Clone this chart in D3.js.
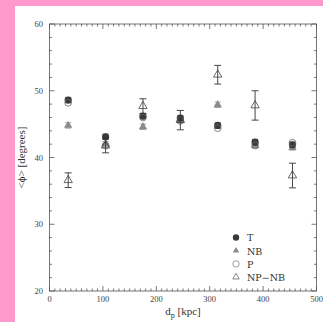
<!DOCTYPE html>
<html><head><meta charset="utf-8">
<script src="https://cdn.jsdelivr.net/npm/d3@7"></script>
<style>
html,body{margin:0;padding:0;background:#ff99cc;}
svg{display:block;}
</style></head>
<body>
<script>
const distances = [35, 105, 175, 245, 315, 385, 455];
const valuesT   = [48.6, 43.1, 46.2, 45.9, 44.8, 42.3, 41.9];
const errT      = [0.4, 0.4, 0.4, 0.4, 0.4, 0.4, 0.4];
const valuesNB  = [44.8, 42.0, 44.6, 45.6, 47.9, 41.8, 41.5];
const errNB     = [0.4, 0.4, 0.4, 0.4, 0.4, 0.4, 0.4];
const valuesP   = [48.2, 41.8, 46.0, 45.5, 44.4, 41.8, 42.2];
const valuesNPNB= [36.6, 41.8, 47.7, 45.6, 52.4, 47.8, 37.3];
const errNPNB   = [1.1, 1.1, 1.1, 1.45, 1.4, 2.2, 1.85];
const xTicks = [0, 100, 200, 300, 400, 500];
const yTicks = [20, 30, 40, 50, 60];
const legendLabels = ["T", "NB", "P", "NP\u2212NB"];

const W = 323, H = 322;
const svg = d3.select("body").append("svg").attr("width", W).attr("height", H);
svg.append("rect").attr("x", 15).attr("y", 6).attr("width", W - 15).attr("height", H - 6).attr("fill", "#fff");

const L = 49.5, R = 316.5, T = 24, B = 291;
const x = d3.scaleLinear().domain([0, 500]).range([L, R]);
const y = d3.scaleLinear().domain([20, 60]).range([B, T]);
const axisCol = "#555";
const font = "Liberation Serif, DejaVu Serif, serif";
const font2 = "DejaVu Serif, Liberation Serif, serif";

// frame
svg.append("rect").attr("x", L).attr("y", T).attr("width", R - L).attr("height", B - T)
  .attr("fill", "none").attr("stroke", axisCol).attr("stroke-width", 0.8);

// ticks
const g = svg.append("g").attr("stroke", axisCol).attr("stroke-width", 0.8);
d3.range(0, 501, 10).forEach(v => {
  const major = v % 100 === 0, len = major ? 5 : 2.5;
  g.append("line").attr("x1", x(v)).attr("x2", x(v)).attr("y1", B).attr("y2", B - len);
  g.append("line").attr("x1", x(v)).attr("x2", x(v)).attr("y1", T).attr("y2", T + len);
});
d3.range(20, 61, 2).forEach(v => {
  const major = v % 10 === 0, len = major ? 5 : 2.5;
  g.append("line").attr("y1", y(v)).attr("y2", y(v)).attr("x1", L).attr("x2", L + len);
  g.append("line").attr("y1", y(v)).attr("y2", y(v)).attr("x1", R).attr("x2", R - len);
});

// tick labels
svg.selectAll(".xl").data(xTicks).enter().append("text")
  .attr("x", d => x(d)).attr("y", B + 11).attr("text-anchor", "middle")
  .attr("font-family", font).attr("font-size", 8.5).attr("fill", "#444").text(d => d);
svg.selectAll(".yl").data(yTicks).enter().append("text")
  .attr("x", L - 6.5).attr("y", d => y(d) + 3).attr("text-anchor", "end")
  .attr("font-family", font).attr("font-size", 8.5).attr("fill", "#444").text(d => d);

// axis titles
const xt = svg.append("text").attr("x", x(250)).attr("y", 315).attr("text-anchor", "middle")
  .attr("font-family", font).attr("font-size", 11).attr("fill", "#333");
xt.append("tspan").text("d");
xt.append("tspan").attr("font-size", 8).attr("dy", 3).text("p");
xt.append("tspan").attr("dy", -3).text(" [kpc]");
svg.append("text").attr("transform", `translate(25,${(T + B) / 2}) rotate(-90)`)
  .attr("text-anchor", "middle").attr("font-family", font).attr("font-size", 11).attr("fill", "#333")
  .text("<\u03D5> [degrees]");

// helpers
function errbars(vals, errs, col, cap) {
  const eg = svg.append("g").attr("stroke", col).attr("stroke-width", 0.9);
  distances.forEach((d, i) => {
    const cx = x(d), y1 = y(vals[i] + errs[i]), y2 = y(vals[i] - errs[i]);
    eg.append("line").attr("x1", cx).attr("x2", cx).attr("y1", y1).attr("y2", y2);
    eg.append("line").attr("x1", cx - cap).attr("x2", cx + cap).attr("y1", y1).attr("y2", y1);
    eg.append("line").attr("x1", cx - cap).attr("x2", cx + cap).attr("y1", y2).attr("y2", y2);
  });
}
const tri = d3.symbol().type(d3.symbolTriangle).size(30);
const triSmall = d3.symbol().type(d3.symbolTriangle).size(18);

// NB
errbars(valuesNB, errNB, "#999", 3);
svg.selectAll(".nb").data(valuesNB).enter().append("path")
  .attr("d", tri).attr("transform", (v, i) => `translate(${x(distances[i])},${y(v)})`)
  .attr("fill", "#8a8a8a");
// T
errbars(valuesT, errT, "#444", 3);
svg.selectAll(".t").data(valuesT).enter().append("circle")
  .attr("cx", (v, i) => x(distances[i])).attr("cy", v => y(v)).attr("r", 3.6).attr("fill", "#3a3a3a");
// P
svg.selectAll(".p").data(valuesP).enter().append("circle")
  .attr("cx", (v, i) => x(distances[i])).attr("cy", v => y(v)).attr("r", 3.4)
  .attr("fill", "none").attr("stroke", "#666").attr("stroke-width", 0.8);
// NP-NB
errbars(valuesNPNB, errNPNB, "#333", 3.5);
svg.selectAll(".npnb").data(valuesNPNB).enter().append("path")
  .attr("d", tri).attr("transform", (v, i) => `translate(${x(distances[i])},${y(v)})`)
  .attr("fill", "none").attr("stroke", "#444").attr("stroke-width", 0.8);

// legend
const lx = 236, ly0 = 237.5, ldy = 13.2;
const lg = svg.append("g");
lg.append("circle").attr("cx", lx).attr("cy", ly0).attr("r", 3.2).attr("fill", "#3a3a3a");
lg.append("path").attr("d", triSmall).attr("transform", `translate(${lx},${ly0 + ldy})`).attr("fill", "#8a8a8a");
lg.append("circle").attr("cx", lx).attr("cy", ly0 + 2 * ldy).attr("r", 3.2).attr("fill", "none").attr("stroke", "#777").attr("stroke-width", 0.7);
lg.append("path").attr("d", triSmall).attr("transform", `translate(${lx},${ly0 + 3 * ldy})`).attr("fill", "none").attr("stroke", "#555").attr("stroke-width", 0.7);
legendLabels.forEach((t, i) => {
  lg.append("text").attr("x", lx + 11).attr("y", ly0 + i * ldy + 3.8)
    .attr("font-family", font2).attr("font-size", 9.5).attr("fill", "#333").text(t);
});
</script>
</body></html>
